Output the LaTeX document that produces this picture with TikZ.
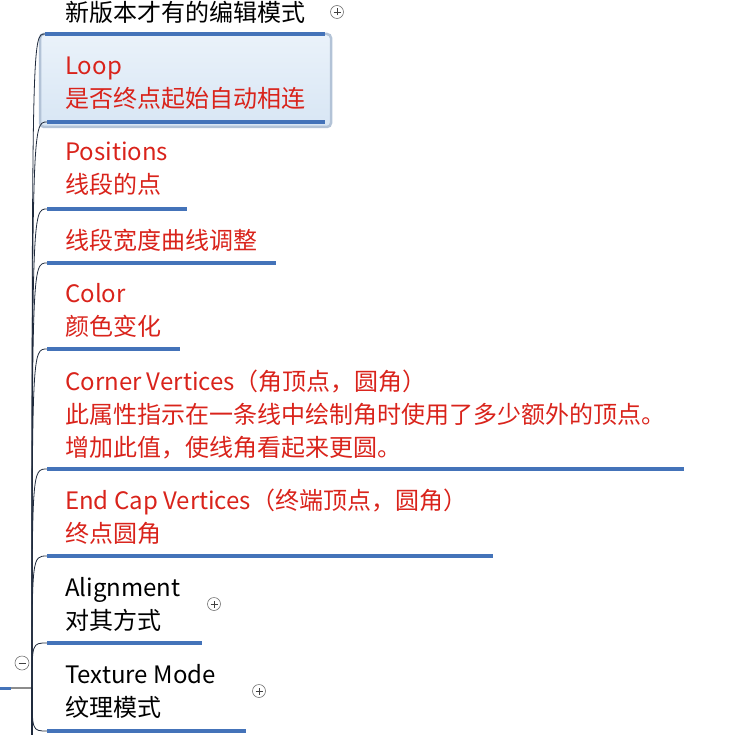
\documentclass[tikz,border=0pt]{standalone}
\usepackage{fontspec}
\setmainfont{Noto Sans CJK SC}
\usetikzlibrary{calc}
\definecolor{mapblue}{HTML}{4473B9}
\definecolor{mapred}{HTML}{D9231B}
\definecolor{mapline}{HTML}{1F2A3C}
\definecolor{selline}{HTML}{B3C3D7}
\definecolor{seltop}{HTML}{EAF2FA}
\definecolor{selbot}{HTML}{D8E6F4}
\tikzset{
  topic/.style={anchor=base west, inner sep=0pt, align=left, font=\fontsize{24}{33}\selectfont},
  uline/.style={line width=4pt, mapblue},
  branch/.style={draw=mapline, line width=0.8pt},
  foldminus/.style={circle, draw=black!55, line width=0.6pt, minimum size=14pt, inner sep=0pt,
    path picture={\draw[black!75, line width=0.7pt] ($(path picture bounding box.center)-(3.5pt,0pt)$) -- ($(path picture bounding box.center)+(3.5pt,0pt)$);}},
  foldplus/.style={circle, draw=black!55, line width=0.6pt, minimum size=13pt, inner sep=0pt,
    path picture={\draw[black!75, line width=0.7pt] ($(path picture bounding box.center)-(3.5pt,0pt)$) -- ($(path picture bounding box.center)+(3.5pt,0pt)$)
      ($(path picture bounding box.center)-(0pt,3.5pt)$) -- ($(path picture bounding box.center)+(0pt,3.5pt)$);}}
}

\begin{document}
\begin{tikzpicture}[x=1pt, y=-1pt]
			%%%%% START %%%%%
			\useasboundingbox (0,0) rectangle (743,735);
			
			% selected topic
			\draw[selline, line width=2.5pt, rounded corners=4pt, top color=seltop, bottom color=selbot] (40,34) rectangle (331,127);
			
			% parent
			\coordinate (root) at (32,688);
			\draw[mapblue, line width=3pt] (0,688) -- (11,688);
			\draw[black!45, line width=1.5pt] (11,688) -- (root);
			\node[foldminus] (fold) at (22,663) {};
			\draw[branch, line width=1.6pt] (root) -- (32,735);
			
			% underlines
			\foreach \n/\a/\b/\y in {t1/45/325/34, t2/47/325/122, t3/47/187/209, t4/47/276/263, t5/47/180/349,
			                         t6/47/684/469, t7/47/493/556, t8/47/202/643, t9/47/246/731}{
				\coordinate (\n) at (\a,\y);
				\coordinate (\n e) at (\b,\y);
				\draw[branch] (root) .. controls (root |- \n) .. (\n);
				\draw[uline] (\n) -- (\n e);
			}
			
			% topics (base = last line)
			\node[topic] (news) at (65,22) {新版本才有的编辑模式};
			\node[topic, mapred] (loop) at (65,108) {Loop\\是否终点起始自动相连};
			\node[topic, mapred] (pos) at (65,194) {Positions\\线段的点};
			\node[topic, mapred] (width) at (65,249) {线段宽度曲线调整};
			\node[topic, mapred] (color) at (65,335) {Color\\颜色变化};
			\node[topic, mapred] (corner) at (65,456) {Corner Vertices（角顶点，圆角）\\此属性指示在一条线中绘制角时使用了多少额外的顶点。\\增加此值，使线角看起来更圆。};
			\node[topic, mapred] (cap) at (65,542) {End Cap Vertices（终端顶点，圆角）\\终点圆角};
			\node[topic] (align) at (65,629) {Alignment\\对其方式};
			\node[topic] (tex) at (65,716) {Texture Mode\\纹理模式};
			
			\node[foldplus] (news+) at (337,12) {};
			\node[foldplus] (align+) at (214,604) {};
			\node[foldplus] (tex+) at (259,691) {};
			%%%%% END %%%%%
\end{tikzpicture}
\end{document}
